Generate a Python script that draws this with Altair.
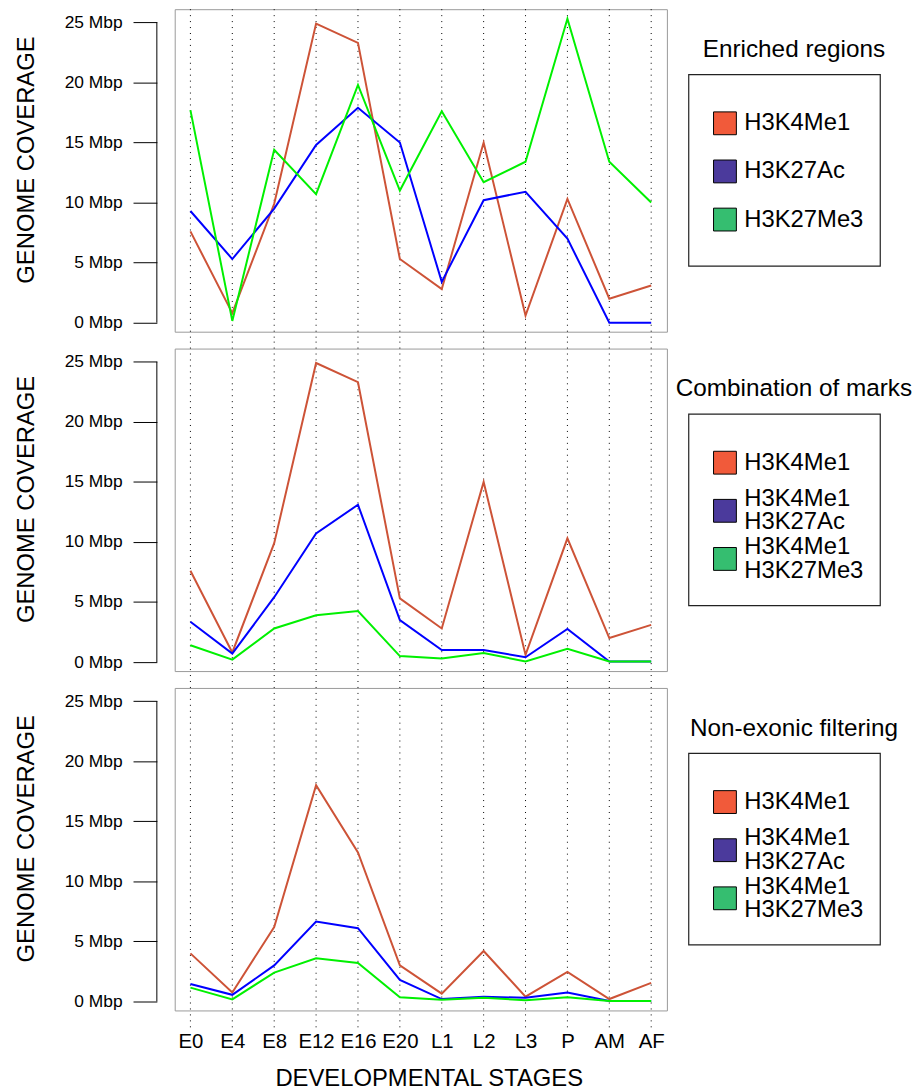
import altair as alt
import pandas as pd

# ---------------- data ----------------
stages = ["E0", "E4", "E8", "E12", "E16", "E20", "L1", "L2", "L3", "P", "AM", "AF"]

# Enriched regions
enr_h3k4me1 = [7.6, 0.8, 9.9, 24.9, 23.3, 5.3, 2.8, 15.0, 0.6, 10.3, 2.0, 3.1]
enr_h3k27ac = [9.3, 5.3, 9.5, 14.8, 17.9, 15.0, 3.4, 10.2, 10.9, 7.0, 0.0, 0.0]
enr_h3k27me3 = [17.7, 0.15, 14.4, 10.7, 19.8, 11.0, 17.6, 11.7, 13.4, 25.3, 13.4, 10.0]

# Combination of marks
comb_h3k4me1 = [7.6, 0.8, 9.9, 24.9, 23.3, 5.3, 2.8, 15.0, 0.6, 10.3, 2.0, 3.1]
comb_k4_k27ac = [3.35, 0.7, 5.4, 10.7, 13.1, 3.5, 1.0, 1.0, 0.4, 2.75, 0.05, 0.05]
comb_k4_k27me3 = [1.4, 0.2, 2.8, 3.9, 4.25, 0.5, 0.3, 0.75, 0.05, 1.1, 0.05, 0.05]

# Non-exonic filtering
nonex_h3k4me1 = [4.0, 0.75, 6.2, 18.0, 12.4, 3.0, 0.65, 4.2, 0.4, 2.45, 0.2, 1.55]
nonex_k4_k27ac = [1.45, 0.55, 3.0, 6.65, 6.1, 1.8, 0.2, 0.4, 0.3, 0.75, 0.03, 0.03]
nonex_k4_k27me3 = [1.15, 0.17, 2.4, 3.6, 3.2, 0.35, 0.15, 0.3, 0.1, 0.35, 0.03, 0.03]

panel_titles = ["Enriched regions", "Combination of marks", "Non-exonic filtering"]
labels_enriched = ["H3K4Me1", "H3K27Ac", "H3K27Me3"]
labels_comb = ["H3K4Me1", "H3K4Me1\nH3K27Ac", "H3K4Me1\nH3K27Me3"]
y_ticks = [0, 5, 10, 15, 20, 25]

# ---------------- style ----------------
FONT = "Liberation Sans"
W, H = 496, 325
LINE_COLORS = ["#CD5337", "#0000FF", "#00F000"]
SWATCH_COLORS = ["#F15A3A", "#4B3A9C", "#35BE70"]
Y_DOMAIN = [-0.75, 26.1]
LINE_H = 23.5


def make_plot(values_list, top_ext, bot_ext, show_x):
    if show_x:
        x_axis = alt.Axis(title="DEVELOPMENTAL STAGES", labelAngle=0, labelFontSize=20.5,
                          labelColor="black", labelPadding=21, ticks=False, tickSize=0,
                          domain=False, grid=False, labelOverlap=False, labelFont=FONT,
                          titleFont=FONT, titleFontSize=24, titleFontWeight="normal",
                          titleColor="black", titlePadding=15, titleX=256)
    else:
        x_axis = None
    xenc = alt.X("stage:O", sort=stages,
                 scale=alt.Scale(type="point", padding=0.375), axis=x_axis)
    yscale = alt.Scale(domain=Y_DOMAIN, nice=False, zero=False)
    yaxis = alt.Axis(values=y_ticks, labelExpr="datum.value + ' Mbp'", offset=18,
                     tickSize=24, tickColor="black", tickWidth=1, domain=False,
                     grid=False, labelFontSize=17.5, labelColor="black",
                     labelPadding=11, labelFont=FONT, titleFont=FONT,
                     titleFontSize=24, titleFontWeight="normal", titleColor="black",
                     titlePadding=26, titleY=H / 2 - 11)
    ytitle = "GENOME COVERAGE"

    grid = alt.Chart(pd.DataFrame({"stage": stages})).mark_rule(
        color="black", strokeDash=[1, 5], strokeWidth=1
    ).encode(x=xenc, y=alt.value(-top_ext), y2=alt.value(H + bot_ext))

    axis_line = alt.Chart(pd.DataFrame({"a": [0]})).mark_rule(
        color="black", strokeWidth=1
    ).encode(
        x=alt.value(-18),
        y=alt.YDatum(y_ticks[0], scale=yscale, axis=yaxis, title=ytitle),
        y2=alt.Y2Datum(y_ticks[-1]),
    )

    lines = []
    for vals, col in zip(values_list, LINE_COLORS):
        df = pd.DataFrame({"stage": stages, "value": vals})
        lines.append(
            alt.Chart(df).mark_line(color=col, strokeWidth=2).encode(
                x=xenc,
                y=alt.Y("value:Q", scale=yscale, axis=yaxis, title=ytitle),
            )
        )
    return alt.layer(grid, axis_line, *lines).properties(
        width=W, height=H, view=alt.ViewBackground(stroke="#999999", strokeWidth=1)
    )


def make_legend(title, labels):
    d = pd.DataFrame({"label": labels, "i": list(range(len(labels))),
                      "nl": [lab.count("\n") + 1 for lab in labels],
                      "fill": SWATCH_COLORS})
    box = alt.Chart(pd.DataFrame({"a": [0]})).mark_rect(
        fill="white", stroke="#222222", strokeWidth=1.2
    ).encode(x=alt.value(21), x2=alt.value(214), y=alt.value(66), y2=alt.value(259))
    ttl = alt.Chart(pd.DataFrame({"t": [title]})).mark_text(
        fontSize=24.5, align="center", baseline="middle", font=FONT, color="black"
    ).encode(x=alt.value(127), y=alt.value(41), text="t:N")
    ysc = alt.Y("i:Q", scale=alt.Scale(domain=[0, 2], range=[115, 212]), axis=None)
    sw = alt.Chart(d).mark_square(
        size=529, opacity=1, filled=True, stroke="black", strokeWidth=1
    ).encode(x=alt.value(57.5), y=ysc, color=alt.Color("fill:N", scale=None))
    txt_layers = []
    for n in (1, 2):
        txt_layers.append(
            alt.Chart(d).transform_filter(f"datum.nl == {n}").mark_text(
                align="left", baseline="middle", fontSize=24, lineBreak="\n",
                lineHeight=LINE_H, font=FONT, color="black", dy=-(n - 1) * LINE_H / 2
            ).encode(x=alt.value(77), y=ysc, text="label:N")
        )
    return alt.layer(box, ttl, sw, *txt_layers).properties(
        width=236, height=H, view=alt.ViewBackground(strokeOpacity=0)
    )


rows = []
panel_values = [
    [enr_h3k4me1, enr_h3k27ac, enr_h3k27me3],
    [comb_h3k4me1, comb_k4_k27ac, comb_k4_k27me3],
    [nonex_h3k4me1, nonex_k4_k27ac, nonex_k4_k27me3],
]
panel_labels = [labels_enriched, labels_comb, labels_comb]
exts = [(0, 7), (7, 7), (7, 18)]
for k in range(3):
    plot = make_plot(panel_values[k], exts[k][0], exts[k][1], show_x=(k == 2))
    leg = make_legend(panel_titles[k], panel_labels[k])
    rows.append(
        alt.hconcat(plot, leg, spacing=0).resolve_scale(
            x="independent", y="independent", color="independent"
        )
    )

chart = (
    alt.vconcat(*rows, spacing=1)
    .resolve_scale(x="independent", y="independent", color="independent")
    .properties(padding={"left": 6, "top": -4, "right": 0, "bottom": 0})
    .configure(font=FONT)
    .configure_view(stroke="transparent")
)

chart.save("out.html", embed_options={"renderer": "svg", "actions": False})
